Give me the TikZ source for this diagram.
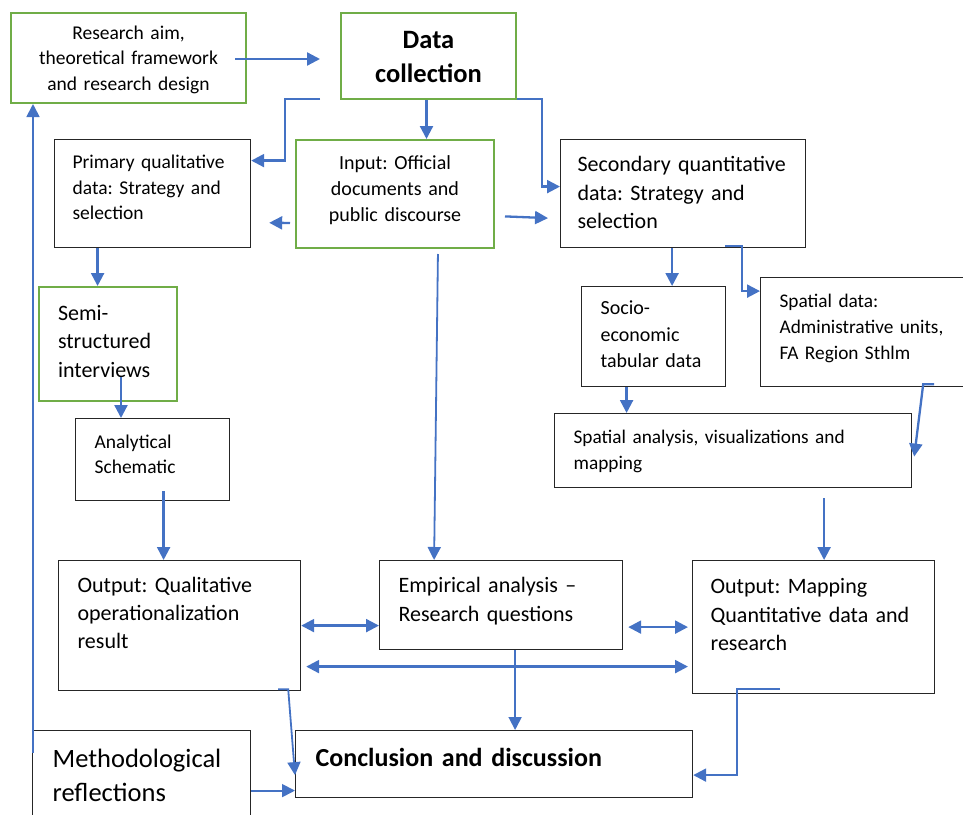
\documentclass[tikz,border=0pt]{standalone}
\usepackage{fontspec}
\setmainfont{Carlito}
\usetikzlibrary{arrows.meta,positioning}
\definecolor{flowblue}{RGB}{68,114,196}
\definecolor{flowgreen}{RGB}{112,173,71}
\tikzstyle{arrow} = [line width=2.3pt,-{Triangle[length=13pt,width=13pt]},color=flowblue]
\tikzstyle{biarrow} = [line width=2.3pt,{Triangle[length=13pt,width=13pt]}-{Triangle[length=13pt,width=13pt]},color=flowblue]
\tikzstyle{stepbox} = [rectangle, draw=black!85, line width=1.2pt, anchor=north west, align=left, inner ysep=4pt, text height=0pt]
\tikzstyle{greenbox} = [stepbox, draw=flowgreen, line width=2pt]
\frenchspacing

\begin{document}
\begin{tikzpicture}[x=1pt, y=-1pt]
\useasboundingbox (0,0) rectangle (963,814);
% Top row
\node[greenbox, minimum width=235pt, minimum height=90pt, text width=215pt, inner xsep=10pt, align=center, text depth=38pt, font=\fontsize{19.5}{25.5}\selectfont] (research) at (10,12) {Research aim,\\theoretical framework\\and research design};
\node[greenbox, minimum width=175pt, minimum height=86pt, text width=155pt, inner xsep=10pt, align=center, text depth=16pt, font=\fontsize{26.5}{34}\selectfont\bfseries] (datacoll) at (340,12) {Data\\collection};

% Strategy and selection
\node[stepbox, minimum width=196pt, minimum height=108pt, text width=160pt, inner xsep=18pt, text depth=50pt, font=\fontsize{19.5}{25.5}\selectfont] (primary) at (54,139) {Primary qualitative\\data: Strategy and\\selection};
\node[greenbox, minimum width=198pt, minimum height=108pt, text width=178pt, inner xsep=10pt, align=center, text depth=50pt, font=\fontsize{20}{26}\selectfont] (input) at (295,139) {Input: Official\\documents and\\public discourse};
\node[stepbox, minimum width=245pt, minimum height=108pt, text width=211pt, inner xsep=17pt, text depth=44pt, font=\fontsize{22}{28.5}\selectfont] (secondary) at (560,139) {Secondary quantitative\\data: Strategy and\\selection};

% Qualitative branch
\node[greenbox, minimum width=138pt, minimum height=114pt, text width=100pt, inner xsep=19pt, text depth=48pt, font=\fontsize{22}{28.5}\selectfont] (semi) at (38,286) {Semi-\\structured\\interviews};
\node[stepbox, minimum width=154pt, minimum height=82pt, text width=116pt, inner xsep=19pt, text depth=22pt, font=\fontsize{19.5}{25}\selectfont] (analytical) at (75,418) {Analytical\\Schematic};

% Quantitative branch
\node[stepbox, minimum width=144pt, minimum height=100pt, text width=106pt, inner xsep=19pt, text depth=44pt, font=\fontsize{20}{26.5}\selectfont] (socio) at (581,286) {Socio-\\economic\\tabular data};
\node[stepbox, minimum width=210pt, minimum height=109pt, text width=172pt, inner xsep=19pt, text depth=49pt, font=\fontsize{19.3}{26}\selectfont] (spatialdata) at (760,277) {Spatial data:\\Administrative units,\\FA Region Sthlm};
\node[stepbox, minimum width=357pt, minimum height=74pt, text width=319pt, inner xsep=19pt, text depth=14pt, font=\fontsize{19.3}{26}\selectfont] (spatialanalysis) at (554,413) {Spatial analysis, visualizations and\\mapping};

% Outputs
\node[stepbox, minimum width=242pt, minimum height=130pt, text width=204pt, inner xsep=19pt, text depth=66pt, font=\fontsize{22}{28}\selectfont] (outqual) at (58,560) {Output: Qualitative\\operationalization\\result};
\node[stepbox, minimum width=243pt, minimum height=89pt, text width=205pt, inner xsep=19pt, text depth=25pt, font=\fontsize{22}{28.5}\selectfont] (empirical) at (379,560) {Empirical analysis --\\Research questions};
\node[stepbox, minimum width=242pt, minimum height=133pt, text width=206pt, inner xsep=18pt, text depth=67pt, font=\fontsize{22}{28.5}\selectfont] (outmap) at (692,560) {Output: Mapping\\Quantitative data and\\research};

% Bottom row
\node[stepbox, minimum width=218pt, minimum height=90pt, text width=178pt, inner xsep=20pt, text depth=16pt, font=\fontsize{26.5}{34}\selectfont] (method) at (32,730) {Methodological\\reflections};
\node[stepbox, minimum width=397pt, minimum height=67pt, text width=357pt, inner xsep=20pt, text height=5pt, text depth=0pt, font=\fontsize{26}{30}\selectfont\bfseries] (conclusion) at (295,730) {Conclusion and discussion};

% Arrows
\draw[arrow, shorten <=-12pt, shorten >=20pt] ([yshift=-1pt]research.east) -- ([yshift=-1pt]research.east -| datacoll.west);
\draw[arrow] ([xshift=-20pt, yshift=1pt]datacoll.south west) -- ++(-35,0) |- ([yshift=33pt]primary.east);
\draw[arrow] ([xshift=-2pt]datacoll.south) -- ([xshift=-2pt]datacoll.south |- input.north);
\draw[arrow] ([yshift=1pt]datacoll.south east) -- ++(25,0) |- ([yshift=7pt]secondary.west);
\draw[arrow, shorten <=5pt, shorten >=18pt] ([yshift=-29pt]input.west) -- ([yshift=-29pt]primary.east);
\draw[arrow, shorten <=10pt, shorten >=12pt] ([yshift=-22pt]input.east) -- ([yshift=-25pt]secondary.west);
\draw[arrow] ([xshift=-55pt]primary.south) -- ([xshift=-55pt]primary.south |- semi.north);
\draw[arrow, shorten <=-25pt] ([xshift=13pt]semi.south) -- ([xshift=13pt]semi.south |- analytical.north);
\draw[arrow, shorten <=-10pt] ([xshift=11pt]analytical.south) -- ([xshift=11pt]analytical.south |- outqual.north);
\draw[arrow, line width=1.8pt, shorten <=5pt] ([xshift=43pt]input.south) -- ([xshift=-67pt]empirical.north);
\draw[arrow] ([xshift=-11pt]secondary.south) -- ([xshift=-11pt]secondary.south |- socio.north);
\draw[arrow] ([xshift=42pt, yshift=2pt]secondary.south) -- ++(17,0) |- ([yshift=41pt]spatialdata.west);
\draw[arrow] ([xshift=-27pt]socio.south) -- ([xshift=-27pt]socio.south |- spatialanalysis.north);
\draw[arrow] ([xshift=-37pt, yshift=3pt]spatialdata.south east) -- ++(-11,0) -- ([xshift=2pt, yshift=-6pt]spatialanalysis.east);
\draw[arrow, shorten <=10pt] ([xshift=91pt]spatialanalysis.south) -- ([xshift=91pt]spatialanalysis.south |- outmap.north);
\draw[biarrow] (outqual.east) -- (outqual.east -| empirical.west);
\draw[biarrow, shorten <=5pt, shorten >=4pt] ([yshift=-22pt]empirical.east) -- ([yshift=-22pt]empirical.east -| outmap.west);
\draw[biarrow, shorten <=5pt, shorten >=4pt] ([yshift=-41pt]outqual.east) -- ([yshift=-41pt]outqual.east -| outmap.west);
\draw[arrow, line width=1.8pt] ([xshift=14pt]empirical.south) -- ([xshift=14pt]empirical.south |- conclusion.north);
\draw[arrow, line width=1.8pt] ([xshift=-23pt, yshift=2pt]outqual.south east) -- ++(10,0) -- ([yshift=-11pt]conclusion.west);
\draw[arrow] ([xshift=88pt, yshift=5pt]outmap.south west) -- ++(-43,0) |- ([yshift=-11pt]conclusion.east);
\draw[arrow, line width=1.8pt] ([yshift=-15pt]method.east) -- ([yshift=-15pt]method.east -| conclusion.west);
\draw[arrow, line width=1.8pt, shorten <=-23pt] ([xshift=1pt]method.north west) -- ([xshift=1pt]method.north west |- research.south);
\end{tikzpicture}
\end{document}
